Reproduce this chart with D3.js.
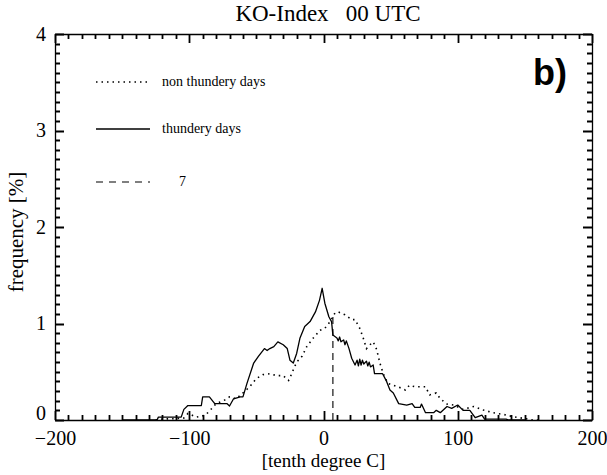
<!DOCTYPE html>
<html>
<head>
<meta charset="utf-8">
<script src="https://cdn.jsdelivr.net/npm/d3@7"></script>
<style>
  html, body { margin: 0; padding: 0; background: #fff; }
  svg { display: block; }
</style>
</head>
<body>
<svg id="chart" width="607" height="475"></svg>
<script>
// KO-Index distribution at 00 UTC, in tenth degree C
const thunderyX = [-150, -124, -123, -106, -104, -101, -91, -90, -85, -81, -77, -72, -70, -67, -62, -60, -57, -52, -48.5, -44, -42, -40, -37, -34, -30, -27, -25, -22.5, -20, -17.5, -14, -10, -6, -3, -1, 1, 4, 6, 7, 10, 11, 12, 13, 15, 16, 17, 19, 21, 23.5, 25, 26, 27, 28, 29, 30, 32, 33, 34, 35, 37, 38, 44, 47, 49.5, 52, 56, 62, 66, 68, 72, 73, 76, 82, 84, 87, 92, 95.5, 100, 104, 109, 113, 118, 120, 136, 138, 150];
const thunderyY = [0, 0, 0.03, 0.03, 0.11, 0.15, 0.15, 0.24, 0.24, 0.17, 0.17, 0.17, 0.145, 0.22, 0.24, 0.24, 0.38, 0.59, 0.66, 0.74, 0.72, 0.74, 0.76, 0.81, 0.78, 0.74, 0.62, 0.59, 0.69, 0.85, 0.97, 1.02, 1.12, 1.24, 1.365, 1.21, 1.07, 1.02, 0.88, 0.85, 0.82, 0.86, 0.81, 0.83, 0.78, 0.82, 0.74, 0.64, 0.57, 0.62, 0.56, 0.63, 0.57, 0.62, 0.58, 0.61, 0.56, 0.6, 0.55, 0.57, 0.48, 0.48, 0.40, 0.31, 0.28, 0.17, 0.155, 0.17, 0.13, 0.13, 0.165, 0.076, 0.076, 0.10, 0.076, 0.14, 0.12, 0.155, 0.10, 0.10, 0.024, 0.05, 0.01, 0.01, 0, 0];

const nonThunderyX = [-125, -120, -110, -104, -101, -94.5, -88, -84.5, -80, -73, -70, -65, -60, -55, -50, -45, -40, -35, -30, -26, -24, -20, -16, -12.5, -7.6, -2.6, 1, 5, 8.6, 11, 16, 21, 23.5, 27, 29.6, 32, 34.6, 37, 39.6, 42, 44.5, 48, 52, 58, 61, 64, 68, 72, 76, 79, 84, 87, 92, 97, 104, 112, 119, 126, 134, 141, 149, 156, 160];
const nonThunderyY = [0, 0.01, 0.015, 0.02, 0.067, 0.03, 0.05, 0.1, 0.17, 0.21, 0.24, 0.22, 0.28, 0.345, 0.43, 0.47, 0.48, 0.46, 0.46, 0.41, 0.47, 0.60, 0.66, 0.76, 0.85, 0.93, 0.95, 1.02, 1.11, 1.12, 1.09, 1.04, 1.04, 0.95, 0.85, 0.74, 0.78, 0.81, 0.73, 0.59, 0.48, 0.38, 0.36, 0.33, 0.31, 0.36, 0.345, 0.345, 0.345, 0.26, 0.28, 0.22, 0.165, 0.155, 0.11, 0.14, 0.104, 0.076, 0.058, 0.035, 0.017, 0, 0];

const threshold = 7;                  // KO-Index threshold marked by the dashed line
const xMajorTicks = [-200, -100, 0, 100, 200];
const yMajorTicks = [0, 1, 2, 3, 4];
const legendLabels = ["non thundery days", "thundery days", String(threshold)];

const SERIF = "'Liberation Serif', 'DejaVu Serif', serif";
const SANS = "'Liberation Sans', Arial, sans-serif";

const svg = d3.select("#chart");
const plotLeft = 55, plotRight = 592, plotTop = 34, plotBottom = 420;

const x = d3.scaleLinear().domain([-200, 200]).range([plotLeft, plotRight]);
const y = d3.scaleLinear().domain([0, 4]).range([plotBottom, plotTop]);

const minorX = d3.range(-200, 201, 10);
const minorY = d3.range(0, 4.001, 0.1).map(v => +v.toFixed(2));

// axis lines and tick labels
function styleAxis(g) {
  g.select(".domain").attr("stroke", "#000").attr("stroke-width", 1.3);
  g.selectAll(".tick line").remove();
  g.selectAll(".tick text").attr("font-size", 20).attr("fill", "#000")
    .style("font-family", SERIF);
}
svg.append("g").attr("transform", `translate(0,${plotBottom})`)
  .call(d3.axisBottom(x).tickValues(xMajorTicks).tickSizeOuter(0).tickSizeInner(0)
    .tickPadding(11).tickFormat(d3.format("d")))
  .call(styleAxis);
svg.append("g").attr("transform", `translate(0,${plotTop})`)
  .call(d3.axisTop(x).tickValues([]).tickSizeOuter(0))
  .call(styleAxis);
const leftAxis = svg.append("g").attr("transform", `translate(${plotLeft},0)`)
  .call(d3.axisLeft(y).tickValues(yMajorTicks).tickSizeOuter(0).tickSizeInner(0)
    .tickPadding(9).tickFormat(d3.format("d")))
  .call(styleAxis);
svg.append("g").attr("transform", `translate(${plotRight},0)`)
  .call(d3.axisRight(y).tickValues([]).tickSizeOuter(0))
  .call(styleAxis);
// the zero label sits slightly above the corner
leftAxis.selectAll(".tick text").filter(d => d === 0).attr("dy", "-0.05em");

// inward tick marks on all four sides, as one path
const isMajorX = v => xMajorTicks.includes(v);
const isMajorY = v => yMajorTicks.includes(v);
const tickPath = d3.path();
minorX.forEach(v => {
  const len = isMajorX(v) ? 9 : 5;
  const px = Math.round(x(v)) + 0.5;
  tickPath.moveTo(px, plotBottom); tickPath.lineTo(px, plotBottom - len);
  tickPath.moveTo(px, plotTop); tickPath.lineTo(px, plotTop + len);
});
minorY.forEach(v => {
  const len = isMajorY(v) ? 9 : 5;
  const py = Math.round(y(v)) + 0.5;
  tickPath.moveTo(plotLeft, py); tickPath.lineTo(plotLeft + len, py);
  tickPath.moveTo(plotRight, py); tickPath.lineTo(plotRight - len, py);
});
svg.append("path").attr("class", "frame-ticks")
  .attr("d", tickPath.toString())
  .attr("fill", "none").attr("stroke", "#000").attr("stroke-width", 1.8);

// curves
const line = d3.line().x(d => x(d[0])).y(d => y(d[1]));
const thundery = thunderyX.map((v, i) => [v, thunderyY[i]]);
const nonThundery = nonThunderyX.map((v, i) => [v, nonThunderyY[i]]);

svg.append("path").datum(nonThundery)
  .attr("d", line).attr("fill", "none").attr("stroke", "#000")
  .attr("stroke-width", 1.6).attr("stroke-dasharray", "1.5,4");
svg.append("path").datum(thundery)
  .attr("d", line).attr("fill", "none").attr("stroke", "#000")
  .attr("stroke-width", 1.3).attr("stroke-linejoin", "round");

// dashed threshold line rises to the non thundery curve
const bis = d3.bisector(d => d[0]).left;
const i1 = bis(nonThundery, threshold);
const p0 = nonThundery[i1 - 1], p1 = nonThundery[i1];
const thrTop = p0[1] + (p1[1] - p0[1]) * (threshold - p0[0]) / (p1[0] - p0[0]);
svg.append("line")
  .attr("x1", x(threshold)).attr("x2", x(threshold))
  .attr("y1", y(0)).attr("y2", y(thrTop))
  .attr("stroke", "#000").attr("stroke-width", 1.1).attr("stroke-dasharray", "7,5");

// legend
const legendY = [82, 129, 182];
const legendDash = ["1.5,4", null, "7,6"];
const legendW = [1.6, 1.3, 1.1];
legendLabels.forEach((lab, i) => {
  svg.append("line")
    .attr("x1", 96).attr("x2", 150)
    .attr("y1", legendY[i]).attr("y2", legendY[i])
    .attr("stroke", "#000").attr("stroke-width", legendW[i])
    .attr("stroke-dasharray", legendDash[i]);
  svg.append("text")
    .attr("x", i === 2 ? 179 : 162).attr("y", legendY[i] + 4)
    .attr("font-size", 14).style("font-family", SERIF).text(lab);
});

// panel tag
svg.append("text").attr("x", 533).attr("y", 85)
  .style("font-family", SANS)
  .attr("font-weight", "bold").attr("font-size", 36).text("b)");

// title and axis titles
svg.append("text").attr("x", 328).attr("y", 21)
  .attr("text-anchor", "middle").attr("font-size", 23).style("font-family", SERIF)
  .attr("xml:space", "preserve").text("KO-Index   00 UTC");
svg.append("text").attr("x", (plotLeft + plotRight) / 2).attr("y", 467)
  .attr("text-anchor", "middle").attr("font-size", 19).style("font-family", SERIF)
  .text("[tenth degree C]");
svg.append("text")
  .attr("transform", `translate(23,${(plotTop + plotBottom) / 2 + 5}) rotate(-90)`)
  .attr("text-anchor", "middle").attr("font-size", 21).style("font-family", SERIF)
  .text("frequency [%]");
</script>
</body>
</html>
